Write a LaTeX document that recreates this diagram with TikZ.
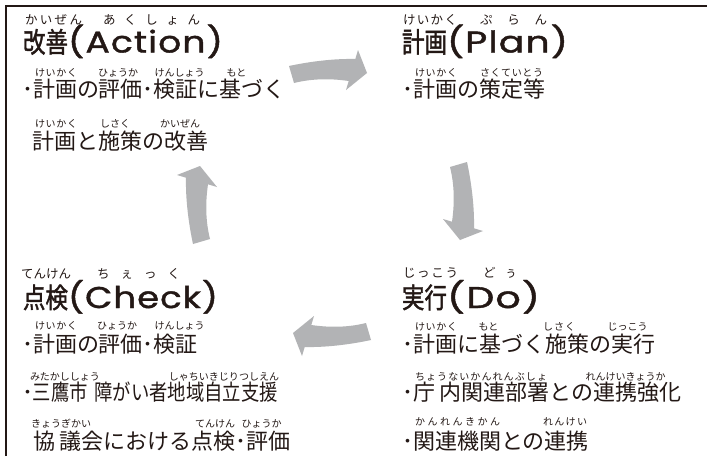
\documentclass[tikz,border=0pt]{standalone}
\usepackage{fontspec}
\usepackage{graphicx}
\setmainfont{Noto Sans CJK JP}
\newfontfamily\latH{Poppins}[LetterSpace=3,FakeBold=1.2]
\newfontfamily\jpH{Noto Sans CJK JP}[FakeBold=1.6]
\definecolor{ink}{RGB}{35,24,21}
\definecolor{arrowgray}{RGB}{178,179,181}
\def\sprA#1{#1\sprB}
\def\sprB#1{\ifx\relax#1\else\hfill#1\expandafter\sprB\fi}
\newcommand\spr[1]{\sprA#1\relax}
\newcommand\rbline{\fontsize{10}{11}\selectfont}
\newcommand\rbhead{\fontsize{12.5}{13}\selectfont}
\newcommand\bodyfont{\fontsize{22}{24}\selectfont}
\tikzset{
 txt/.style={inner sep=0pt, outer sep=0pt, anchor=west, text=ink},
 rubyL/.style={txt, font=\rbline},
 rubyH/.style={txt, font=\rbhead},
 bodytxt/.style={txt, font=\bodyfont},
 headtxt/.style={inner sep=0pt, outer sep=0pt, anchor=base west, text=ink},
 cyclearrow/.style={fill=arrowgray, draw=none},
 frameline/.style={draw=ink, line width=2.3pt, line join=miter},
}
\newcommand\rtbox[2]{\dimen2=#1\relax\setbox0\hbox{#2}\ifdim\wd0>\dimen2 \hbox to \dimen2{\hss\box0\hss}\else\hbox to \dimen2{\spr{#2}}\fi}
% style, name, xleft, xright, ycenter, text
\newcommand\rt[6]{\node[#1] (#2) at (#3,#5) {\rtbox{\dimexpr #4pt-#3pt\relax}{#6}};}
% name, x, y, cjk, latin, latin width
\newcommand\heading[6]{\node[headtxt] (#1) at (#2,#3) {\resizebox{45pt}{\height}{\jpH\fontsize{28}{28}\selectfont #4}\resizebox{#6pt}{\height}{\latH\fontsize{30}{30}\selectfont #5}};}
\begin{document}
\begin{tikzpicture}[x=1pt,y=-1pt]
\useasboundingbox (0,0) rectangle (707,456);
\fill[white] (0,0) rectangle (707,456);
\draw[frameline] (6.2,456) -- (6.2,6.2) -- (707,6.2);
% cycle arrows
\foreach \a in {0,-90,180,90}{
  \fill[cyclearrow, rotate around={\a:(330,203)}] (289,66) .. controls (310,61.5) and (334,58.5) .. (355.3,59) -- (358,50) -- (367,73) -- (346,90) -- (348.7,81) .. controls (328,78) and (310,79) .. (294,83) -- cycle;
}
% Action
\rt{rubyH}{rA1}{25}{82}{20}{かいぜん}
\rt{rubyH}{rA2}{103}{200}{20}{あくしょん}
\heading{hA}{23}{52.5}{改善}{(Action)}{155}
\rt{rubyL}{rA3}{35}{77}{73}{けいかく}
\rt{rubyL}{rA4}{102}{134}{73}{ひょうか}
\rt{rubyL}{rA5}{157}{202}{73}{けんしょう}
\rt{rubyL}{rA6}{228}{245}{73}{もと}
\node[bodytxt] (a1) at (22,89.5) {･計画の評価･検証に基づく};
\rt{rubyL}{rA7}{35}{77}{124}{けいかく}
\rt{rubyL}{rA8}{100}{130}{124}{しさく}
\rt{rubyL}{rA9}{160}{200}{124}{かいぜん}
\node[bodytxt] (a2) at (32,141) {計画と施策の改善};
% Plan
\rt{rubyH}{rP1}{403}{457}{20}{けいかく}
\rt{rubyH}{rP2}{480}{547}{20}{ぷらん}
\heading{hP}{402}{52.5}{計画}{(Plan)}{121}
\rt{rubyL}{rP3}{415}{457}{73}{けいかく}
\rt{rubyL}{rP4}{480}{543}{73}{さくていとう}
\node[bodytxt] (p1) at (402,89.5) {･計画の策定等};
% Check
\rt{rubyH}{rC1}{25}{67}{274}{てんけん}
\rt{rubyH}{rC2}{97}{180}{274}{ちぇっく}
\heading{hC}{23}{308}{点検}{(Check)}{150}
\rt{rubyL}{rC3}{35}{77}{326}{けいかく}
\rt{rubyL}{rC4}{100}{134}{326}{ひょうか}
\rt{rubyL}{rC5}{157}{202}{326}{けんしょう}
\node[bodytxt] (c1) at (22,344) {･計画の評価･検証};
\rt{rubyL}{rC6}{33}{97}{376.5}{みたかししょう}
\rt{rubyL}{rC7}{172}{276}{376.5}{しゃちいきじりつしえん}
\node[bodytxt] (c2) at (22,392.5) {･\resizebox{245pt}{\height}{三鷹市\hspace{8pt}障がい者地域自立支援}};
\rt{rubyL}{rC8}{35}{87}{423.5}{きょうぎかい}
\rt{rubyL}{rC9}{197}{233}{423.5}{てんけん}
\rt{rubyL}{rC10}{245}{278}{423.5}{ひょうか}
\node[bodytxt] (c3) at (34,441) {協\hspace{4pt}議会における点検･評価};
% Do
\rt{rubyH}{rD1}{403}{458}{272.5}{じっこう}
\rt{rubyH}{rD2}{483}{517}{272.5}{どぅ}
\heading{hD}{402}{308}{実行}{(Do)}{93}
\rt{rubyL}{rD3}{415}{457}{327}{けいかく}
\rt{rubyL}{rD4}{480}{497}{327}{もと}
\rt{rubyL}{rD5}{543}{575}{327}{しさく}
\rt{rubyL}{rD6}{608}{647}{327}{じっこう}
\node[bodytxt] (d1) at (402,344) {･計画に基づく施策の実行};
\rt{rubyL}{rD7}{415}{547}{376.5}{ちょうないかんれんぶしょ}
\rt{rubyL}{rD8}{593}{658}{376.5}{れんけいきょうか}
\node[bodytxt] (d2) at (402,392.5) {･庁\hspace{5pt}内関連部署との連携強化};
\rt{rubyL}{rD9}{415}{500}{422}{かんれんきかん}
\rt{rubyL}{rD10}{543}{587}{422}{れんけい}
\node[bodytxt] (d3) at (402,441) {･関連機関との連携};
\end{tikzpicture}
\end{document}
